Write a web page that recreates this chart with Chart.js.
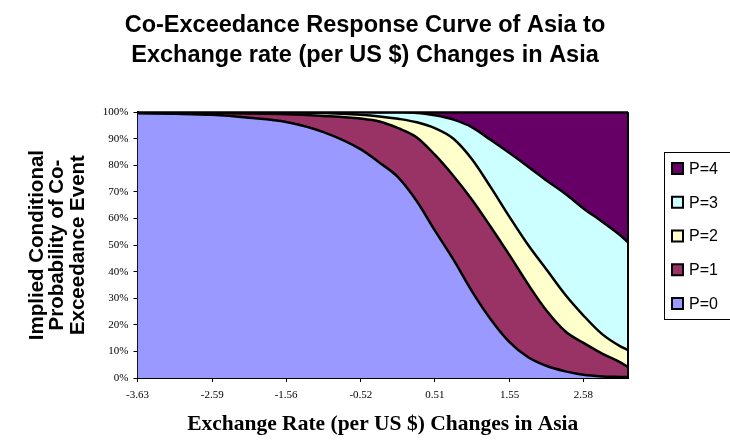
<!DOCTYPE html>
<html>
<head>
<meta charset="utf-8">
<script src="https://cdn.jsdelivr.net/npm/chart.js@4/dist/chart.umd.min.js"></script>
<style>
  html, body { margin: 0; padding: 0; background: #fff; }
  #wrap { width: 730px; height: 440px; position: relative; }
</style>
</head>
<body>
<div id="wrap"><canvas id="c" width="730" height="440"></canvas></div>
<script>
// Exchange rate change (x) sample positions
const xValues = [-3.63, -3.11, -2.59, -2.08, -1.56, -1.04, -0.52, -0.26, 0.00, 0.26, 0.51, 0.77, 1.03, 1.29, 1.55, 1.81, 2.07, 2.33, 2.58, 2.84, 3.10, 3.20];
// Cumulative upper boundary (%) of each band
const p0Top = [99.6, 99.4, 99.0, 97.9, 96.3, 92.5, 86.0, 81.0, 75.5, 66.5, 55.5, 44.5, 32.5, 22.0, 13.5, 7.8, 4.5, 2.5, 1.2, 0.6, 0.4, 0.3];
const p1Top = [99.9, 99.8, 99.7, 99.5, 99.2, 98.6, 97.6, 96.5, 94.0, 90.5, 84.0, 76.0, 67.0, 56.8, 46.2, 35.2, 25.2, 17.5, 13.2, 9.2, 5.8, 4.1];
const p2Top = [100, 100, 100, 99.95, 99.9, 99.7, 99.0, 98.4, 97.5, 96.2, 94.0, 90.0, 82.2, 71.7, 60.6, 50.0, 40.6, 31.2, 23.5, 16.5, 11.8, 10.5];
const p3Top = [100, 100, 100, 100, 100, 100, 99.95, 99.9, 99.85, 99.7, 98.8, 97.2, 94.3, 89.5, 84.6, 79.5, 74.2, 69.2, 63.8, 58.8, 53.5, 51.0];
const p4Top = [100, 100, 100, 100, 100, 100, 100, 100, 100, 100, 100, 100, 100, 100, 100, 100, 100, 100, 100, 100, 100, 100];
const seriesLabels = ['P=0', 'P=1', 'P=2', 'P=3', 'P=4'];
const seriesColors = ['#9999FF', '#993366', '#FFFFCC', '#CCFFFF', '#660066'];
const xTickLabels = ['-3.63', '-2.59', '-1.56', '-0.52', '0.51', '1.55', '2.58'];
const yTickValues = [0, 10, 20, 30, 40, 50, 60, 70, 80, 90, 100];

const bands = [p0Top, p1Top, p2Top, p3Top, p4Top];
const datasets = bands.map((arr, i) => ({
  label: seriesLabels[i],
  data: arr.map((v, k) => ({ x: xValues[k], y: v })),
  backgroundColor: seriesColors[i],
  borderColor: '#000',
  borderWidth: 2.5,
  pointRadius: 0,
  cubicInterpolationMode: 'monotone',
  fill: i === 0 ? 'origin' : '-1'
}));

const frame = {
  id: 'frame',
  afterDatasetsDraw(chart) {
    const a = chart.chartArea, ctx = chart.ctx;
    ctx.save();
    ctx.strokeStyle = '#000';
    ctx.lineWidth = 2;
    ctx.beginPath();
    ctx.moveTo(a.right, a.top);
    ctx.lineTo(a.right, a.bottom);
    ctx.moveTo(a.left, a.top);
    ctx.lineTo(a.right, a.top);
    ctx.stroke();
    ctx.restore();
  }
};

const boxLegend = {
  id: 'boxLegend',
  afterDraw(chart) {
    const ctx = chart.ctx;
    ctx.save();
    ctx.strokeStyle = '#000';
    ctx.lineWidth = 1;
    ctx.strokeRect(664.5, 152.5, 80, 167);
    ctx.font = '16px "Liberation Sans", Arial, sans-serif';
    ctx.textBaseline = 'middle';
    ctx.textAlign = 'left';
    const ds = chart.data.datasets;
    for (let j = 0; j < ds.length; j++) {
      const i = ds.length - 1 - j;
      const cy = 168.5 + j * 33.75;
      ctx.fillStyle = ds[i].backgroundColor;
      ctx.fillRect(672, cy - 5.5, 11, 11);
      ctx.lineWidth = 2;
      ctx.strokeRect(672, cy - 5.5, 11, 11);
      ctx.fillStyle = '#000';
      ctx.fillText(ds[i].label, 689, cy + 1);
    }
    ctx.restore();
  }
};

new Chart(document.getElementById('c'), {
  type: 'line',
  data: { datasets },
  plugins: [frame, boxLegend],
  options: {
    responsive: false,
    animation: false,
    layout: { padding: 0 },
    plugins: {
      legend: { display: false },
      tooltip: { enabled: false },
      title: {
        display: true,
        text: ['Co-Exceedance Response Curve of Asia to', 'Exchange rate (per US $) Changes in Asia'],
        font: { family: '"Liberation Sans", Arial, sans-serif', size: 23.5, weight: 'bold', lineHeight: 1.28 },
        color: '#000',
        padding: { top: 10, bottom: 42 }
      }
    },
    scales: {
      x: {
        type: 'linear',
        min: xValues[0],
        max: xValues[xValues.length - 1],
        afterBuildTicks(scale) { scale.ticks = xTickLabels.map(t => ({ value: Number(t) })); },
        afterFit(scale) { scale.height = 62; },
        ticks: {
          callback: (v) => xTickLabels.find(t => Number(t) === v) ?? v.toFixed(2),
          font: { family: '"Liberation Serif", "Times New Roman", serif', size: 11 },
          color: '#000',
          padding: 7,
          maxRotation: 0,
          autoSkip: false
        },
        grid: { display: true, drawOnChartArea: false, tickLength: 4, tickColor: '#000', tickWidth: 1 },
        border: { display: true, color: '#000', width: 2 },
        title: {
          display: true,
          text: 'Exchange Rate (per US $) Changes in Asia',
          font: { family: '"Liberation Serif", "Times New Roman", serif', size: 21.5, weight: 'bold', lineHeight: 1.2 },
          color: '#000',
          padding: { top: 0, bottom: 3 }
        }
      },
      y: {
        min: 0,
        max: 100,
        afterBuildTicks(scale) { scale.ticks = yTickValues.map(v => ({ value: v })); },
        afterFit(scale) { scale.width = 137.5; },
        ticks: {
          callback: (v) => v + '%',
          font: { family: '"Liberation Serif", "Times New Roman", serif', size: 11 },
          color: '#000',
          padding: 5
        },
        grid: { display: true, drawOnChartArea: false, tickLength: 4, tickColor: '#000', tickWidth: 1 },
        border: { display: true, color: '#000', width: 2 },
        title: {
          display: true,
          text: ['Implied Conditional', 'Probability of Co-', 'Exceedance Event'],
          font: { family: '"Liberation Sans", Arial, sans-serif', size: 20.5, weight: 'bold', lineHeight: 1.0 },
          color: '#000',
          padding: { top: 27, bottom: 0 }
        }
      },
      spacer: {
        position: 'right',
        display: true,
        afterFit(scale) { scale.width = 102; },
        ticks: { display: false },
        grid: { display: false },
        border: { display: false }
      }
    }
  }
});
</script>
</body>
</html>
